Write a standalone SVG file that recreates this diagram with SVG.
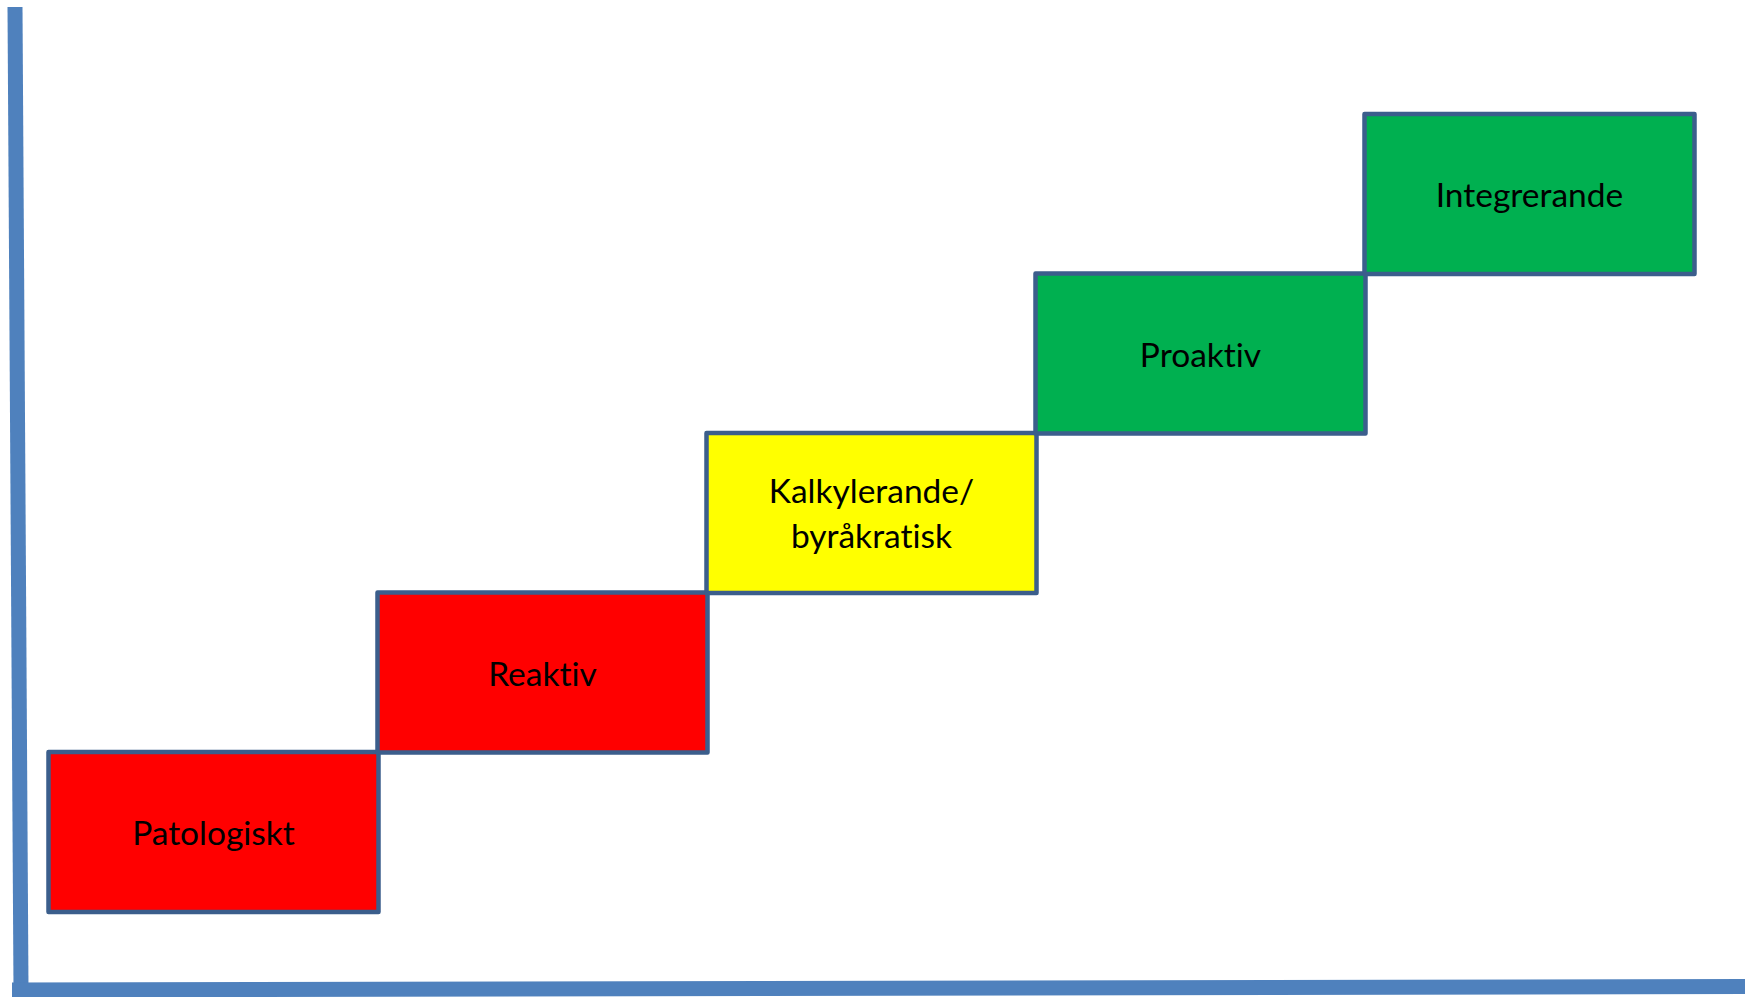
<svg xmlns="http://www.w3.org/2000/svg" width="1748" height="997" viewBox="0 0 1748 997">
<style>
.box{stroke:#3B5E8C;stroke-width:4.5;stroke-linejoin:round}
.red{fill:#FF0000}.yel{fill:#FFFF00}.grn{fill:#00B050}
.lbl{font-family:Lato,"Liberation Sans",sans-serif;font-size:33.5px;fill:#000;text-anchor:middle;font-variant-ligatures:none;font-feature-settings:"liga" 0}
.axis{stroke:#4F81BD;stroke-width:15;fill:none}
</style>
<rect width="1748" height="997" fill="#fff"/>
<g id="axes">
<line class="axis" x1="15" y1="7" x2="21" y2="990"/>
<line class="axis" x1="12" y1="990" x2="1745" y2="986.5"/>
</g>
<g id="n1"><rect class="box red" x="48.5" y="752" width="330" height="160"/><text class="lbl" x="213.5" y="845">Patologiskt</text></g>
<g id="n2"><rect class="box red" x="377.5" y="592.5" width="330" height="160"/><text class="lbl" x="542.5" y="686">Reaktiv</text></g>
<g id="n3"><rect class="box yel" x="706.5" y="433" width="330" height="160"/><text class="lbl" x="871.5" y="503">Kalkylerande/</text><text class="lbl" x="871.5" y="548">byråkratisk</text></g>
<g id="n4"><rect class="box grn" x="1035.5" y="273.5" width="330" height="160"/><text class="lbl" x="1200.5" y="367">Proaktiv</text></g>
<g id="n5"><rect class="box grn" x="1364.5" y="114" width="330" height="160"/><text class="lbl" x="1529.5" y="207">Integrerande</text></g>
</svg>
